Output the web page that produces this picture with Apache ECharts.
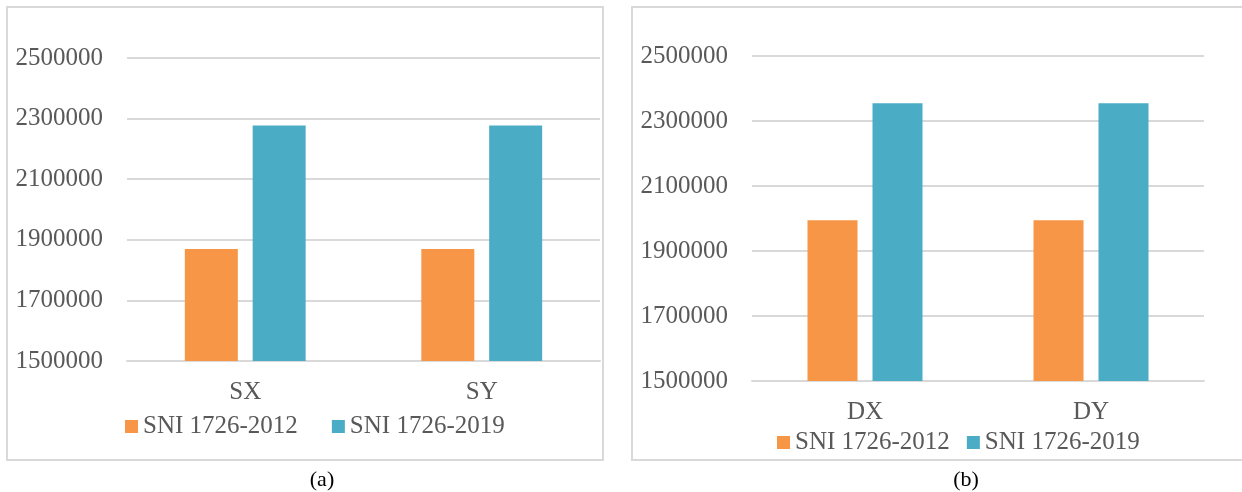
<!DOCTYPE html>
<html>
<head>
<meta charset="utf-8">
<script src="https://cdn.jsdelivr.net/npm/echarts@6/dist/echarts.min.js"></script>
<style>
  html, body { margin: 0; padding: 0; background: #fff; }
  #main { width: 1242px; height: 492px; }
</style>
</head>
<body>
<div id="main"></div>
<script>
// data
var catsA = ['SX', 'SY'];
var catsB = ['DX', 'DY'];
var sni2012A = [1870000, 1870000];
var sni2019A = [2277000, 2277000];
var sni2012B = [1995000, 1995000];
var sni2019B = [2355000, 2355000];
var legendNames = ['SNI 1726-2012', 'SNI 1726-2019'];

// axis runs 1500000..2500000 in steps of 200000; bars are drawn from that base
var BASE = 1500000;
var TOP = 2500000;
var STEP = 200000;

var font = '"Liberation Serif", "DejaVu Serif", serif';
var grey = '#595959';
var lineCol = '#d9d9d9';
var orange = '#F79646';
var blue = '#4BACC6';

function off(arr) {
    return arr.map(function (v) { return v - BASE; });
}

function yAxisOf(idx) {
    return {
        type: 'value',
        gridIndex: idx,
        min: 0,
        max: TOP - BASE,
        interval: STEP,
        axisLine: { show: false },
        axisTick: { show: false },
        splitLine: { lineStyle: { color: lineCol, width: 2 } },
        axisLabel: {
            margin: 24,
            color: grey,
            fontFamily: font,
            fontSize: 25,
            formatter: function (v) { return String(v + BASE); }
        }
    };
}

function xAxisOf(idx, cats) {
    return {
        type: 'category',
        gridIndex: idx,
        data: cats,
        axisLine: { lineStyle: { color: lineCol, width: 2 } },
        axisTick: { show: false },
        axisLabel: { margin: 19, color: grey, fontFamily: font, fontSize: 25 }
    };
}

var myChart = echarts.init(document.getElementById('main'));

var option = {
    animation: false,
    backgroundColor: '#fff',
    grid: [
        { left: 127, right: 642, top: 58, bottom: 131 },
        { left: 752, right: 38, top: 56, bottom: 111 }
    ],
    xAxis: [xAxisOf(0, catsA), xAxisOf(1, catsB)],
    yAxis: [yAxisOf(0), yAxisOf(1)],
    legend: [
        {
            data: legendNames, left: 120, top: 409, itemGap: 34,
            icon: 'rect', itemWidth: 13, itemHeight: 13,
            textStyle: { color: grey, fontFamily: font, fontSize: 25 }
        },
        {
            data: legendNames, left: 772, top: 425, itemGap: 17,
            icon: 'rect', itemWidth: 13, itemHeight: 13,
            textStyle: { color: grey, fontFamily: font, fontSize: 25 }
        }
    ],
    series: [
        { name: legendNames[0], type: 'bar', xAxisIndex: 0, yAxisIndex: 0, data: off(sni2012A),
          barWidth: 53, barGap: '28%', itemStyle: { color: orange } },
        { name: legendNames[1], type: 'bar', xAxisIndex: 0, yAxisIndex: 0, data: off(sni2019A),
          barWidth: 53, barGap: '28%', itemStyle: { color: blue } },
        { name: legendNames[0], type: 'bar', xAxisIndex: 1, yAxisIndex: 1, data: off(sni2012B),
          barWidth: 50, barGap: '30%', itemStyle: { color: orange } },
        { name: legendNames[1], type: 'bar', xAxisIndex: 1, yAxisIndex: 1, data: off(sni2019B),
          barWidth: 50, barGap: '30%', itemStyle: { color: blue } }
    ],
    graphic: [
        { type: 'rect', shape: { x: 7, y: 7, width: 596, height: 453 }, silent: true,
          style: { fill: 'none', stroke: lineCol, lineWidth: 2 } },
        { type: 'rect', shape: { x: 632, y: 7, width: 640, height: 453 }, silent: true,
          style: { fill: 'none', stroke: lineCol, lineWidth: 2 } },
        { type: 'text', x: 322, y: 480, silent: true,
          style: { text: '(a)', fill: '#000', font: '22px ' + font, align: 'center', verticalAlign: 'middle' } },
        { type: 'text', x: 966, y: 480, silent: true,
          style: { text: '(b)', fill: '#000', font: '22px ' + font, align: 'center', verticalAlign: 'middle' } }
    ]
};

myChart.setOption(option);

window.onresize = function () {
    myChart.resize();
};
</script>
</body>
</html>
